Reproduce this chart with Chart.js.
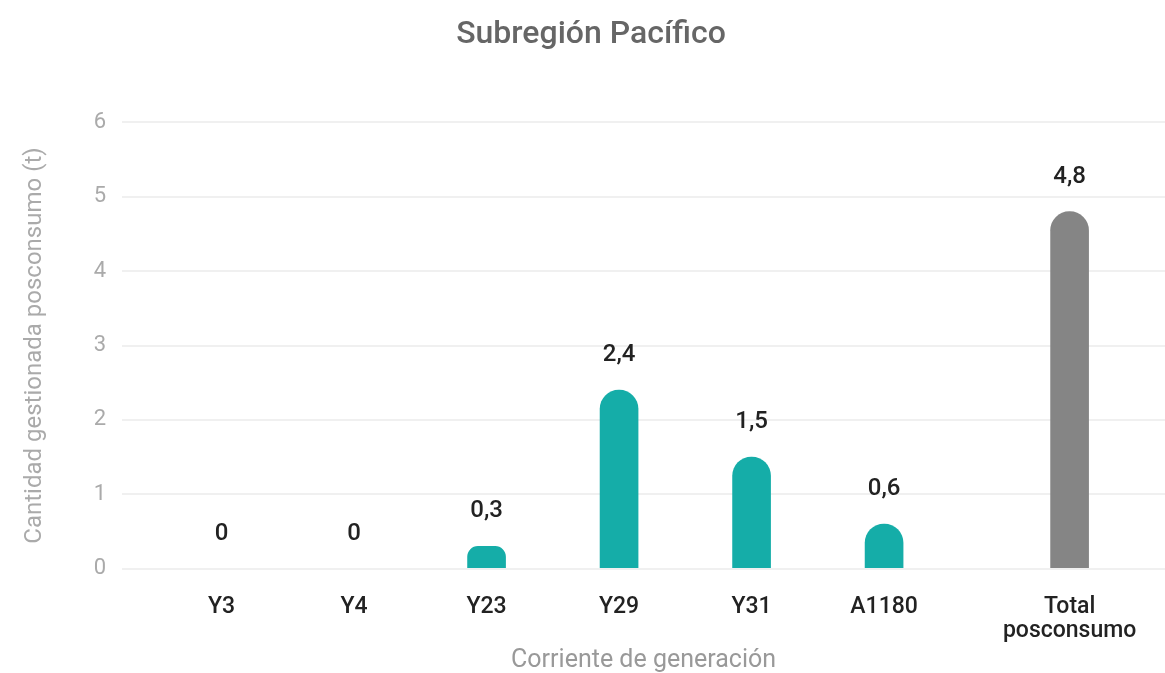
<!DOCTYPE html>
<html lang="es">
<head>
<meta charset="utf-8">
<title>Subregión Pacífico</title>
<script src="https://cdn.jsdelivr.net/npm/chart.js@4/dist/chart.umd.min.js"></script>
<style>
  html, body { margin: 0; padding: 0; background: #fff; }
  #wrap { width: 1165px; height: 673px; }
</style>
</head>
<body>
<div id="wrap"><canvas id="grafico" width="1165" height="673"></canvas></div>
<script>
// Corrientes de residuos y cantidades gestionadas (t)
const categorias = ['Y3', 'Y4', 'Y23', 'Y29', 'Y31', 'A1180', ['Total', 'posconsumo']];
const cantidades = [0, 0, 0.3, 2.4, 1.5, 0.6, 4.8];
const etiquetas = ['0', '0', '0,3', '2,4', '1,5', '0,6', '4,8'];
const ticksY = [0, 1, 2, 3, 4, 5, 6];

// el total va un poco separado de las corrientes
const separacionTotal = 0.4;
const ultimo = categorias.length - 1;
const posicion = (i) => i + (i === ultimo ? separacionTotal : 0);

const colorCorriente = '#15ada8';
const colorTotal = '#858585';
const fuente = "Roboto, 'Noto Sans', sans-serif";

// Valor escrito encima de cada barra
const etiquetasBarras = {
    id: 'etiquetasBarras',
    afterDatasetsDraw(chart) {
        const ctx = chart.ctx;
        const meta = chart.getDatasetMeta(0);
        ctx.save();
        ctx.font = '500 24px ' + fuente;
        ctx.fillStyle = '#222';
        ctx.textAlign = 'center';
        ctx.textBaseline = 'middle';
        meta.data.forEach((barra, i) => {
            ctx.fillText(etiquetas[i], barra.x, barra.y - 35);
        });
        ctx.restore();
    }
};

const ctx = document.getElementById('grafico').getContext('2d');
const myChart = new Chart(ctx, {
    type: 'bar',
    data: {
        datasets: [{
            data: cantidades.map((v, i) => ({ x: posicion(i), y: v })),
            // las barras en cero no se pintan
            backgroundColor: cantidades.map((v, i) =>
                v === 0 ? 'rgba(0,0,0,0)' : (i === ultimo ? colorTotal : colorCorriente)),
            barThickness: 38,
            borderRadius: 19,
            borderSkipped: 'start'
        }]
    },
    options: {
        responsive: false,
        animation: false,
        layout: { padding: { left: 17, right: 0, top: 0, bottom: 0 } },
        plugins: {
            legend: { display: false },
            tooltip: { enabled: false },
            title: {
                display: true,
                text: 'Subregión Pacífico',
                color: '#666',
                font: { family: fuente, size: 32, weight: '500' },
                padding: { top: 16, bottom: 68 }
            }
        },
        scales: {
            x: {
                type: 'linear',
                offset: false,
                min: -0.75,
                max: 7.12,
                grid: { display: false },
                border: { display: false },
                afterBuildTicks: (scale) => {
                    scale.ticks = categorias.map((c, i) => ({ value: posicion(i) }));
                },
                ticks: {
                    autoSkip: false,
                    maxRotation: 0,
                    color: '#222',
                    padding: 18,
                    font: { family: fuente, size: 23, weight: '500', lineHeight: 1.05 },
                    callback: (v) => categorias[categorias.findIndex((c, i) => posicion(i) === v)]
                },
                title: {
                    display: true,
                    text: 'Corriente de generación',
                    color: '#999',
                    font: { family: fuente, size: 25 },
                    padding: { top: -15, bottom: -3 }
                }
            },
            y: {
                min: 0,
                max: 6,
                grid: { color: '#f0f0f0', lineWidth: 2, drawTicks: false },
                border: { display: false },
                afterBuildTicks: (scale) => {
                    scale.ticks = ticksY.map(v => ({ value: v }));
                },
                ticks: {
                    color: '#aaa',
                    padding: 16,
                    font: { family: fuente, size: 22 }
                },
                title: {
                    display: true,
                    text: 'Cantidad gestionada posconsumo (t)',
                    color: '#aaa',
                    font: { family: fuente, size: 24 },
                    padding: { bottom: 28 }
                }
            }
        }
    },
    plugins: [etiquetasBarras]
});
</script>
</body>
</html>
